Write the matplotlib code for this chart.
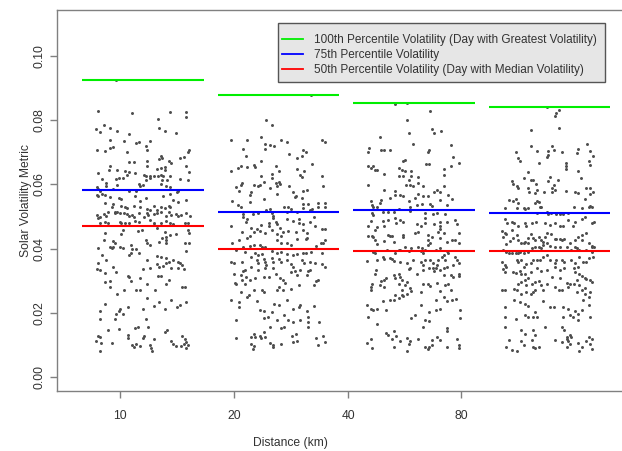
import numpy as np
import matplotlib
matplotlib.use("Agg")
import matplotlib.pyplot as plt
from matplotlib.lines import Line2D
from matplotlib.patches import Rectangle

# ---------------- data ----------------
distance_labels = ["10", "20", "40", "80"]
series_names = ["100th Percentile Volatility (Day with Greatest Volatility)",
                "75th Percentile Volatility",
                "50th Percentile Volatility (Day with Median Volatility)"]
p100 = [0.0925, 0.0879, 0.0855, 0.0843]
p75 = [0.0582, 0.0514, 0.0521, 0.0510]
p50 = [0.0469, 0.0398, 0.0392, 0.0392]

# daily volatility metric (in units of 1e-3) and horizontal jitter (in % of group spacing)
vol_10km = [
    82.9, 82.4, 82.7, 82.6, 81.1, 80.3, 78.5, 77.4, 76.3, 77.5,
    76.8, 77.7, 76.8, 75.9, 75.6, 73.9, 73.7, 73.0, 73.2, 73.7,
    71.9, 70.7, 71.4, 71.6, 70.9, 70.4, 70.1, 70.7, 70.0, 69.0,
    68.2, 68.0, 68.3, 68.6, 67.0, 67.0, 67.2, 67.4, 66.7, 65.9,
    64.4, 65.7, 64.8, 65.1, 65.5, 64.6, 65.7, 63.8, 64.6, 64.3,
    63.8, 63.6, 63.6, 61.7, 61.8, 62.1, 62.0, 63.0, 63.0, 62.5,
    62.7, 62.7, 62.7, 63.0, 62.5, 62.7, 61.8, 61.5, 60.4, 59.6,
    59.9, 60.2, 59.6, 61.5, 62.0, 61.5, 61.5, 59.9, 60.2, 59.1,
    58.6, 58.0, 58.7, 58.1, 58.0, 59.4, 59.1, 57.6, 58.0, 56.8,
    56.5, 57.1, 56.8, 56.0, 55.7, 55.6, 56.3, 54.7, 55.7, 56.3,
    57.1, 55.2, 54.4, 55.2, 54.2, 54.0, 53.1, 53.3, 53.1, 52.7,
    53.4, 53.1, 52.3, 52.1, 53.4, 53.1, 52.6, 53.4, 53.1, 52.1,
    51.5, 51.5, 50.5, 50.0, 49.5, 50.8, 50.3, 51.0, 51.3, 51.2,
    51.0, 50.8, 50.2, 50.5, 50.0, 51.2, 50.0, 51.0, 50.5, 50.8,
    51.2, 51.3, 50.2, 51.5, 50.5, 50.7, 50.2, 50.5, 51.0, 50.2,
    47.9, 48.2, 48.1, 48.4, 48.1, 47.9, 48.1, 48.7, 48.4, 48.9,
    47.9, 47.4, 47.9, 48.6, 47.9, 47.7, 47.9, 47.9, 44.8, 44.5,
    45.8, 45.6, 45.8, 46.3, 45.3, 44.2, 44.5, 45.8, 44.8, 42.7,
    40.1, 42.4, 41.8, 40.4, 40.6, 40.1, 41.1, 39.9, 39.9, 38.5,
    38.5, 42.7, 41.8, 41.1, 42.1, 43.2, 43.5, 42.7, 41.8, 41.8,
    41.8, 39.2, 40.6, 40.1, 36.4, 38.0, 38.0, 36.6, 37.7, 37.5,
    37.1, 35.9, 36.4, 35.9, 35.4, 35.0, 35.6, 33.5, 33.3, 32.4,
    34.3, 32.7, 31.4, 31.2, 29.8, 30.7, 33.5, 34.1, 35.1, 34.3,
    34.5, 35.4, 33.8, 33.8, 33.5, 31.4, 31.4, 30.1, 29.1, 29.6,
    29.8, 28.0, 26.0, 27.0, 27.2, 27.2, 28.9, 27.2, 28.0, 28.0,
    24.6, 22.8, 21.2, 20.7, 19.7, 18.1, 21.8, 20.4, 17.9, 21.2,
    22.0, 23.4, 24.1, 22.3, 21.8, 23.3, 21.2, 17.9, 19.7, 14.7,
    14.9, 15.2, 15.5, 15.5, 14.1, 14.7, 12.9, 12.4, 11.3, 10.5,
    8.2, 10.5, 13.1, 12.0, 10.0, 9.4, 10.3, 9.5, 12.0, 12.9,
    9.8, 9.0, 8.2, 11.8, 11.3, 10.1, 9.5, 9.5, 12.8, 11.8,
    10.8, 9.8, 10.3, 9.0, 92.5]
jit_10km = [
    -33, -8, 20, 32, 32, 11, -29, -35, -32, -24,
    -19, 12, 16, 24, -10, -24, -14, -5, -3, 5,
    2, 3, -24, -22, -34, -28, -12, 34, 33, 13,
    14, 12, 27, 30, -10, -7, 3, 19, 21, -24,
    -25, 3, 10, 13, 16, 16, 32, 34, -19, -13,
    -10, -6, -33, -30, -20, -18, -15, -12, 1, 2,
    5, 8, 11, 13, 15, 20, 27, 33, -27, -27,
    -19, -3, -2, 2, 5, 14, 18, 0, 13, -34,
    -33, -32, -22, -10, -5, 17, 20, 25, 26, -34,
    -33, -30, -28, -24, -18, -16, -6, -2, 2, 15,
    20, 22, 26, 32, -28, -22, -23, -16, -13, -12,
    -7, -2, 3, 5, 8, 13, 16, 19, 20, 10,
    -26, -19, -34, -32, -33, -29, -27, -21, -21, -17,
    -14, -12, -10, -8, -7, -3, 1, 3, 4, 8,
    10, 13, 17, 19, 21, 24, 26, 28, 32, 35,
    -32, -28, -26, -17, -16, -13, -10, -6, -3, 5,
    8, 8, 13, 17, 20, 22, 31, 33, -28, -16,
    -15, -4, -1, 10, 16, 20, 24, 33, 34, -29,
    -33, -22, -21, -22, -17, -15, -9, -8, -5, -3,
    -9, 2, 3, 5, 12, 14, 17, 17, 17, 31,
    34, 32, -24, -23, -27, -30, -10, 3, 10, 13,
    17, 19, 22, 26, 27, 29, -33, -34, -32, -28,
    -22, -20, -11, -10, -9, -2, 0, 5, 10, 12,
    15, 17, 21, 26, 30, 11, 13, 19, 17, -28,
    -24, -24, -19, -14, -5, -2, 3, 9, 29, 31,
    3, -28, -17, -18, -20, -21, -11, -32, -32, 0,
    8, 12, 21, 27, 25, 32, 16, 2, -15, -26,
    -18, -6, -4, 4, 16, 18, -33, -32, -35, -31,
    -32, -23, -11, -11, -8, -7, -5, -2, 0, 1,
    5, 6, 7, 8, 21, 22, 24, 28, 29, 31,
    32, 33, 30, 32, -20]

vol_20km = [
    80.0, 78.5, 73.8, 73.8, 74.8, 72.7, 72.4, 71.9, 71.1, 73.8,
    73.3, 73.8, 73.3, 71.2, 70.9, 70.0, 69.5, 68.8, 68.3, 68.8,
    66.5, 67.2, 66.2, 65.3, 65.9, 65.1, 65.3, 64.1, 65.7, 64.3,
    63.3, 62.0, 62.7, 64.8, 64.1, 63.0, 62.3, 62.5, 60.6, 59.9,
    59.2, 59.9, 59.6, 59.7, 60.7, 58.9, 60.4, 60.7, 60.1, 59.6,
    59.6, 59.6, 58.0, 57.5, 56.8, 57.0, 57.5, 56.0, 58.0, 58.3,
    56.5, 55.7, 55.4, 54.7, 53.6, 53.1, 54.4, 50.7, 49.8, 50.8,
    51.0, 52.1, 52.4, 51.0, 50.2, 53.1, 53.1, 52.4, 51.5, 51.5,
    52.6, 54.0, 54.0, 52.1, 52.3, 54.2, 53.1, 54.2, 53.1, 50.0,
    46.9, 48.2, 49.2, 46.5, 46.0, 47.4, 47.9, 46.9, 49.5, 48.4,
    47.7, 46.3, 45.3, 49.3, 48.7, 47.9, 49.1, 47.6, 48.4, 46.9,
    46.1, 46.0, 45.3, 43.4, 43.9, 45.5, 45.3, 44.8, 45.8, 44.5,
    44.0, 45.5, 45.3, 45.8, 44.8, 42.7, 41.6, 41.8, 41.1, 42.9,
    42.9, 43.2, 42.7, 41.6, 41.6, 42.7, 39.5, 40.6, 40.8, 41.1,
    41.1, 40.6, 40.4, 39.0, 38.7, 38.0, 38.3, 39.2, 38.7, 38.8,
    38.3, 38.0, 38.2, 38.7, 38.5, 39.0, 40.8, 41.6, 38.5, 35.9,
    35.4, 32.2, 35.9, 33.0, 33.3, 31.7, 28.9, 29.3, 37.4, 36.6,
    35.6, 36.9, 35.9, 34.8, 33.8, 37.1, 35.9, 36.9, 35.9, 36.4,
    35.1, 34.3, 33.1, 33.3, 36.4, 35.6, 35.9, 35.4, 35.1, 34.3,
    33.1, 33.3, 33.8, 32.7, 33.3, 34.3, 31.0, 30.1, 29.1, 30.1,
    30.7, 31.2, 31.0, 32.2, 30.7, 30.1, 29.3, 28.0, 27.0, 27.2,
    27.5, 28.6, 31.7, 31.7, 29.9, 30.1, 28.6, 26.5, 24.9, 25.4,
    27.0, 27.0, 26.5, 24.1, 23.3, 21.8, 23.7, 20.9, 20.5, 22.8,
    22.3, 24.1, 20.2, 21.2, 21.8, 22.3, 20.7, 22.0, 17.8, 18.3,
    18.6, 17.6, 19.2, 17.6, 15.2, 15.7, 17.1, 17.6, 18.6, 17.1,
    15.7, 17.1, 15.7, 14.1, 13.4, 12.4, 12.4, 12.8, 12.2, 12.4,
    12.1, 10.1, 9.5, 8.7, 10.5, 9.8, 9.2, 10.3, 12.9, 13.4,
    11.0, 11.3, 12.1, 12.9, 10.0, 10.8, 87.9]
jit_20km = [
    -9, -5, -35, -23, -13, -10, -6, -3, -10, 2,
    6, 32, 34, -26, 18, 20, 8, -24, 14, 17,
    25, -13, -18, -17, -28, -30, -23, -35, -2, 0,
    -5, -5, -13, 14, 19, 16, 17, 32, -27, -28,
    -31, -18, -15, -14, -11, -6, -2, 0, 1, -1,
    8, 33, -29, -20, -21, -1, 11, 12, 18, 21,
    13, 17, -11, -34, -30, -28, -21, -26, -26, -19,
    -15, -9, -6, -5, -4, 4, 7, 9, 6, 14,
    18, 18, 22, 23, 25, 29, 29, 34, 34, 26,
    -35, -24, -23, -20, -16, -13, -7, -7, -4, -2,
    -1, 1, 3, 6, 11, 15, 15, 18, 23, 27,
    32, 34, -27, -23, -21, -14, -18, -10, -5, -1,
    2, 7, 13, 18, 21, -1, 2, 6, 9, 14,
    20, 21, 34, 33, -34, -29, -31, -26, -21, -18,
    -14, -12, -10, -25, -17, -15, -12, -5, -1, 2,
    6, 11, 14, 18, 20, 24, 28, 31, 32, -35,
    -33, -33, -27, -26, -25, -28, -31, -32, -20, -16,
    -15, -11, -10, -9, -10, -5, -4, 0, 2, 6,
    9, 11, 12, 16, 17, 19, 23, 27, 32, 34,
    22, 23, -4, 9, -15, -20, -24, -27, -25, -21,
    -17, -11, -7, -2, 1, 3, 5, 0, -1, 3,
    9, 15, 14, 21, 28, 29, 26, -28, -23, -22,
    -18, -12, -11, -35, -29, -29, -16, -14, -11, -3,
    0, 6, -5, 11, 15, 16, 21, 26, -31, -11,
    -8, -1, 4, 7, 2, 4, 11, 16, 22, 22,
    22, 30, -6, -11, -18, -20, -17, -14, -13, -10,
    -31, -20, -18, -19, -6, -4, -4, 2, 10, 13,
    11, 14, 28, 33, 29, 34, 24]

vol_40km = [
    85.2, 85.5, 82.9, 80.0, 77.2, 76.1, 76.8, 75.9, 74.9, 72.5,
    71.4, 70.2, 70.9, 70.7, 70.9, 70.6, 70.2, 72.2, 68.5, 66.7,
    65.9, 67.7, 67.2, 65.7, 65.1, 65.9, 64.6, 64.4, 63.4, 65.1,
    64.6, 64.1, 64.3, 62.7, 62.5, 62.5, 62.3, 61.3, 66.4, 66.4,
    64.8, 63.0, 59.9, 59.6, 60.4, 59.4, 59.9, 59.9, 58.3, 58.0,
    56.8, 56.3, 56.8, 55.9, 57.1, 56.3, 56.3, 55.7, 57.5, 58.3,
    57.5, 59.6, 56.8, 55.4, 55.2, 55.2, 54.2, 53.1, 54.7, 53.6,
    53.1, 54.7, 53.1, 53.6, 54.0, 54.0, 53.3, 53.6, 51.5, 51.5,
    51.5, 52.4, 51.8, 51.0, 50.5, 51.0, 50.8, 51.0, 50.8, 48.7,
    48.6, 48.9, 49.5, 47.9, 48.9, 48.2, 47.7, 47.2, 47.9, 49.5,
    47.7, 48.2, 47.2, 48.2, 48.9, 47.7, 46.9, 46.6, 47.2, 45.8,
    43.9, 43.9, 43.5, 42.7, 44.2, 44.0, 43.9, 42.1, 44.2, 43.7,
    44.8, 45.3, 44.2, 42.7, 43.7, 45.3, 46.1, 44.8, 43.2, 42.1,
    42.7, 42.7, 45.0, 41.8, 41.3, 42.4, 39.5, 38.5, 39.5, 39.7,
    40.6, 39.3, 40.1, 40.6, 39.2, 38.7, 40.3, 39.5, 41.1, 41.8,
    39.5, 40.1, 39.2, 38.0, 38.5, 39.0, 38.5, 36.1, 36.4, 37.4,
    36.7, 37.1, 36.7, 36.2, 35.9, 35.6, 36.4, 35.9, 35.0, 36.4,
    36.4, 35.4, 33.8, 35.0, 36.6, 37.4, 36.4, 34.3, 37.4, 36.4,
    35.4, 35.0, 33.3, 32.2, 30.3, 29.8, 30.7, 31.7, 30.9, 32.2,
    31.2, 30.1, 33.5, 33.8, 32.2, 33.3, 33.8, 33.8, 33.0, 33.3,
    34.1, 31.7, 31.2, 32.2, 31.4, 31.7, 28.9, 28.0, 27.0, 28.6,
    28.0, 29.1, 27.0, 28.6, 29.6, 27.7, 26.7, 29.1, 28.9, 28.3,
    29.3, 28.6, 28.9, 27.2, 26.5, 26.7, 23.6, 23.9, 24.1, 25.4,
    24.6, 25.4, 25.1, 26.0, 22.5, 23.9, 24.9, 23.6, 24.1, 24.4,
    22.5, 21.2, 20.9, 21.2, 20.9, 20.2, 20.9, 21.2, 19.4, 18.3,
    17.6, 17.3, 18.8, 16.5, 20.9, 18.4, 15.7, 15.2, 14.4, 13.6,
    13.1, 14.4, 11.8, 12.6, 11.3, 11.8, 10.5, 9.0, 9.4, 12.0,
    11.3, 10.1, 8.2, 11.8, 9.4, 9.4, 8.7, 11.5, 9.8, 12.4,
    11.5, 9.4, 11.8, 9.0, 9.8]
jit_40km = [
    -14, -5, 12, -5, 13, 15, 20, -4, -25, -1,
    -33, -34, -24, -22, -18, 11, 10, 27, 29, 33,
    27, -7, -8, -34, -32, -30, -29, -27, -22, -11,
    -9, -7, -2, -11, -8, -2, 3, -4, 9, 11,
    22, 22, -3, -1, 3, 7, -6, -34, -22, -14,
    -10, -8, -14, -18, 3, 7, 10, 1, 15, 17,
    19, 22, 25, 28, 19, -24, -25, -27, -32, -31,
    -30, -4, -3, 2, 6, 12, 13, 24, -23, -19,
    -15, -11, -3, -31, -30, 8, 14, 17, 23, -32,
    -23, -19, -14, -13, -10, -8, 2, 5, 8, 8,
    15, 19, 19, 24, 30, 32, -34, -27, -22, -29,
    -31, -34, -30, -29, -19, -18, -16, -15, -8, -8,
    1, 3, 10, 10, 13, 18, 19, 22, 19, 24,
    28, 30, 33, 33, -27, -22, -20, -14, -11, -10,
    -7, -4, -2, 3, 5, 7, 6, 8, 10, 12,
    16, 19, 24, 22, 25, -30, -29, -35, -27, -23,
    -22, -18, -16, -15, -10, -5, -1, 5, 7, 8,
    12, 14, 16, 17, 18, 21, 23, 24, 30, 32,
    33, 29, -28, -29, -22, -24, -21, -15, -14, -11,
    -10, -9, -4, -3, 2, 7, 11, 14, 15, 19,
    22, 27, 29, 33, 33, 22, -31, -32, -32, -25,
    -22, -11, -9, -7, -5, -3, -2, 7, 10, 12,
    17, 23, 25, 27, 5, 19, -23, -18, -15, -14,
    -11, -9, -8, -5, 5, 16, 22, 24, 28, 31,
    -35, -32, -30, -27, -21, 11, 16, 19, 1, -2,
    8, 11, -34, -27, 34, 34, 7, 24, 24, -21,
    -19, -15, -16, -13, -10, -32, -35, -31, -15, -5,
    -3, -4, -5, 3, 8, 11, 10, 13, 13, 17,
    19, 24, 32, 33, 33]

vol_80km = [
    84.3, 83.1, 82.2, 81.3, 77.7, 77.0, 72.1, 71.9, 70.4, 70.4,
    68.6, 69.3, 70.9, 70.0, 70.0, 68.1, 67.2, 66.7, 66.7, 65.7,
    64.8, 69.8, 71.1, 72.5, 70.4, 68.8, 67.4, 66.2, 63.9, 64.1,
    62.0, 62.0, 61.3, 61.5, 61.0, 60.2, 59.4, 58.9, 60.2, 62.3,
    61.5, 61.0, 59.9, 58.3, 57.5, 58.9, 57.8, 58.3, 57.3, 57.5,
    58.9, 58.1, 57.5, 57.3, 58.9, 58.9, 57.0, 57.5, 55.4, 55.2,
    54.7, 55.4, 54.2, 52.6, 52.3, 52.6, 54.2, 54.7, 54.4, 53.1,
    52.9, 52.8, 52.8, 51.0, 51.5, 50.8, 51.2, 50.8, 50.8, 50.8,
    51.0, 53.1, 52.6, 53.1, 53.4, 53.1, 49.2, 47.9, 48.4, 48.1,
    47.1, 48.1, 46.9, 48.1, 48.4, 48.1, 47.4, 48.1, 47.2, 46.9,
    48.9, 47.2, 48.4, 49.2, 50.0, 48.1, 48.4, 45.6, 44.8, 44.5,
    43.5, 45.8, 44.2, 42.5, 43.2, 42.7, 41.8, 41.6, 42.1, 41.6,
    43.2, 44.4, 43.2, 42.7, 43.7, 42.7, 42.1, 43.7, 44.8, 44.5,
    43.0, 43.0, 43.0, 42.7, 43.0, 41.8, 42.7, 43.7, 44.2, 42.7,
    44.8, 41.8, 40.8, 40.6, 41.4, 39.5, 39.0, 38.7, 38.7, 38.7,
    38.5, 39.0, 38.7, 39.0, 40.1, 40.6, 40.6, 40.1, 41.1, 41.6,
    40.8, 40.6, 40.6, 40.6, 39.5, 40.6, 40.1, 39.7, 39.7, 39.0,
    40.6, 37.4, 35.9, 34.8, 33.5, 32.7, 34.3, 36.4, 35.9, 36.6,
    34.3, 35.1, 35.6, 36.4, 36.6, 36.4, 37.4, 38.0, 36.6, 35.6,
    36.4, 36.6, 35.9, 36.4, 35.4, 37.4, 35.9, 35.9, 37.2, 34.3,
    32.7, 32.4, 33.1, 32.2, 32.2, 32.7, 33.8, 33.1, 33.3, 34.3,
    33.3, 33.8, 33.8, 32.7, 32.2, 31.4, 30.7, 30.4, 30.1, 29.6,
    30.7, 30.1, 29.6, 29.1, 28.8, 29.1, 29.6, 29.8, 28.6, 28.9,
    31.2, 30.7, 29.3, 28.9, 29.1, 30.1, 28.6, 27.2, 27.7, 27.0,
    27.0, 27.5, 27.0, 26.0, 26.5, 26.0, 26.5, 27.0, 27.0, 28.0,
    27.2, 27.0, 28.0, 26.5, 26.0, 26.5, 24.9, 23.9, 21.8, 24.1,
    23.3, 22.8, 22.0, 23.7, 21.8, 21.8, 21.8, 21.3, 20.7, 19.7,
    22.3, 20.9, 18.6, 18.1, 19.2, 18.8, 18.6, 20.2, 18.6, 18.8,
    19.2, 18.6, 17.6, 18.6, 15.5, 14.7, 13.4, 14.7, 13.2, 15.5,
    15.5, 14.7, 12.4, 13.2, 12.4, 11.8, 11.5, 11.3, 9.8, 11.5,
    9.4, 11.5, 10.8, 11.3, 10.3, 10.5, 9.2, 11.3, 12.4, 11.8,
    10.3, 8.7, 9.4, 8.4, 8.2, 9.2, 9.0, 9.2, 8.2]
jit_80km = [
    -2, 7, 5, 4, 7, -14, 2, -14, -9, -1,
    -2, -1, 3, 9, -25, -23, -22, -8, 12, 12,
    12, 20, 21, 28, 30, 32, 29, 30, -16, 21,
    23, -19, -14, -12, -28, -27, -24, -23, -10, 0,
    6, -1, 3, 4, 2, -16, -15, -9, -11, -4,
    2, 12, 19, 21, 27, 30, 30, 32, 26, -30,
    -27, -25, -23, -19, -18, -16, -11, -9, -8, -7,
    -6, -33, -24, -9, -2, -1, 1, 5, 8, 10,
    14, 18, 24, 29, 30, 31, -33, -31, -28, -26,
    -23, -18, -17, -13, -10, -3, 0, 4, 8, 10,
    14, 17, 19, 24, 26, 31, 33, -35, -33, -32,
    -34, -28, -24, -29, -27, -23, -21, -19, -18, -16,
    -16, -14, -12, -11, -8, -6, -5, -3, -2, 1,
    4, 5, 8, 9, 11, 15, 19, 21, 24, 24,
    27, 29, 31, 33, -32, -34, -32, -30, -28, -25,
    -23, -22, -19, -16, -13, -11, -8, -6, -5, -2,
    0, 4, 8, 13, 16, 19, 20, 22, 27, 31,
    31, 32, -35, -33, -34, -33, -32, -24, -23, -21,
    -19, -17, -14, -12, -9, -7, -5, -2, 0, 4,
    5, 9, 11, 16, 19, 22, 25, 27, 29, 21,
    -27, -25, -22, -21, -18, -14, -9, -6, -2, 4,
    8, 11, 18, 19, 22, 24, 26, 27, 30, 31,
    -16, -18, -21, -23, -17, -13, -11, -8, -6, -2,
    2, 8, 13, 15, 18, 20, 22, 24, 26, -35,
    -33, -26, -24, -21, -17, -14, -12, -11, -5, 4,
    7, 9, 14, 20, 26, 30, 29, 25, -33, -26,
    -22, -18, -16, -5, 0, 3, 10, 14, 19, 21,
    29, 24, -33, -25, -18, -16, -12, -11, -9, 10,
    15, 17, 21, 30, -33, -21, -18, -12, -11, -3,
    9, 11, 13, 15, 16, 13, -30, -21, -19, -13,
    -8, 4, 9, 14, 15, 21, 24, 27, 29, 31,
    30, 31, -32, -28, -24, -12, -11, 13, 22]

groups_vol = [vol_10km, vol_20km, vol_40km, vol_80km]
groups_jit = [jit_10km, jit_20km, jit_40km, jit_80km]

# ---------------- layout / style ----------------
W, H = 622, 451
GROUP_POS = [1, 2, 3, 4]
TICK_POS = [0.830, 1.672, 2.513, 3.347]
HALF_W = 0.45
TEXT_C = "#333333"
AXIS_C = "#808080"
FS = 8.7
LEG_FS = 8.45

plt.rcParams["font.family"] = ["Liberation Sans", "DejaVu Sans"]

fig = plt.figure(figsize=(W / 100, H / 100), dpi=100)
ax = fig.add_axes([57 / W, 1 - 391 / H, (628 - 57) / W, (391 - 10) / H])
ax.set_xlim(0.3653, 1 + (628 - 143) / 135.5)
ax.set_ylim(-0.0044, 0.1144)

for g, vols, jits in zip(GROUP_POS, groups_vol, groups_jit):
    x = g + np.asarray(jits, dtype=float) / 100.0
    y = np.asarray(vols, dtype=float) / 1000.0
    ax.scatter(x, y, s=4.6, color="#4d4d4d", linewidths=0, zorder=2)

gp = np.asarray(GROUP_POS, dtype=float)
for vals, col in zip([p100, p75, p50], ["#00ee00", "#0000ff", "#ff0000"]):
    ax.hlines(vals, gp - HALF_W, gp + HALF_W, colors=col, linewidth=1.5, zorder=3)

# axes styling
for side in ["left", "bottom", "top"]:
    ax.spines[side].set_color(AXIS_C)
    ax.spines[side].set_linewidth(1.0)
ax.spines["right"].set_visible(False)

ax.set_xticks(TICK_POS)
ax.set_xticklabels(distance_labels)
ax.set_yticks([0.0, 0.02, 0.04, 0.06, 0.08, 0.10])
ax.set_yticklabels([f"{v:.2f}" for v in [0.0, 0.02, 0.04, 0.06, 0.08, 0.10]])
ax.tick_params(axis="both", direction="out", length=5, width=1.0, color=AXIS_C,
               labelcolor=TEXT_C, labelsize=FS)
ax.tick_params(axis="x", pad=8.5)
ax.tick_params(axis="y", pad=3.5)
for lab in ax.get_yticklabels():
    lab.set_rotation(90)
    lab.set_va("center")

ax.set_xlabel("Distance (km)", fontsize=FS, color=TEXT_C, va="center")
ax.xaxis.set_label_coords((290 - 57) / (628 - 57), (391 - 443) / (391 - 10))
ax.set_ylabel("Solar Volatility Metric", fontsize=FS, color=TEXT_C, va="center")
ax.yaxis.set_label_coords((26 - 57) / (628 - 57), 0.5)

# legend with a manually drawn box
fig.patches.append(Rectangle((278 / W, 1 - 82 / H), 327 / W, 59 / H,
                             transform=fig.transFigure, facecolor="#e6e6e6",
                             edgecolor="#555555", linewidth=1.0, zorder=5))
handles = [Line2D([], [], color=c, linewidth=1.3) for c in ["#00ee00", "#0000ff", "#ff0000"]]
leg = fig.legend(handles, series_names, loc="upper left",
                 bbox_to_anchor=(281.5 / W, 1 - 34.5 / H), frameon=False,
                 borderpad=0, borderaxespad=0, handlelength=1.85,
                 handletextpad=0.95, labelspacing=0.22, fontsize=LEG_FS)
for t in leg.get_texts():
    t.set_color(TEXT_C)
leg.set_zorder(6)

fig.savefig("out.png", dpi=100)
